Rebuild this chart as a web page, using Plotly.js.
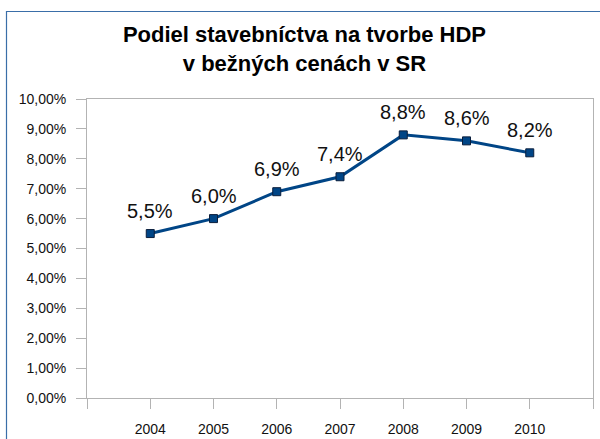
<!DOCTYPE html>
<html><head><meta charset="utf-8">
<script src="https://cdn.plot.ly/plotly-3.0.1.min.js"></script>
<style>html,body{margin:0;padding:0;background:#fff}#chart{width:600px;height:439px}</style>
</head><body><div id="chart"></div>
<script>
const years = [2004, 2005, 2006, 2007, 2008, 2009, 2010];
const shares = [5.5, 6.0, 6.9, 7.4, 8.8, 8.6, 8.2];
const valueLabels = ["5,5%", "6,0%", "6,9%", "7,4%", "8,8%", "8,6%", "8,2%"];
const yTickVals = [0, 1, 2, 3, 4, 5, 6, 7, 8, 9, 10];
const yTickText = ["0,00%", "1,00%", "2,00%", "3,00%", "4,00%", "5,00%", "6,00%", "7,00%", "8,00%", "9,00%", "10,00%"];
const xTickVals = [2003, 2004, 2005, 2006, 2007, 2008, 2009, 2010, 2011];
const xTickText = ["", "2004", "2005", "2006", "2007", "2008", "2009", "2010", ""];

const FONT = 'Liberation Sans, Arial, sans-serif';

const trace = {
  x: years, y: shares,
  type: 'scatter', mode: 'lines+markers',
  line: {color: '#004586', width: 3},
  marker: {symbol: 'square', size: 8, color: '#004586', line: {color: '#0a1e3c', width: 1}},
  cliponaxis: false, hoverinfo: 'none'
};

const labelAnnotations = years.map((yr, i) => ({
  x: yr, y: shares[i], xref: 'x', yref: 'y',
  text: valueLabels[i], showarrow: false,
  xanchor: 'center', yanchor: 'bottom', yshift: 10,
  font: {family: FONT, size: 20, color: '#111'}
}));

const layout = {
  width: 600, height: 439,
  margin: {l: 87, r: 7, t: 99, b: 41},
  paper_bgcolor: '#fff', plot_bgcolor: '#fff',
  showlegend: false,
  font: {family: FONT, color: '#111'},
  title: {
    text: '<b>Podiel stavebníctva na tvorbe HDP<br>v bežných cenách v SR</b>',
    font: {family: FONT, size: 22, color: '#000'},
    x: 304.5 / 600, xanchor: 'center', xref: 'container',
    y: 1 - 42/439, yanchor: 'top', yref: 'container'
  },
  xaxis: {
    range: [2003, 2011], tickmode: 'array', tickvals: xTickVals, ticktext: xTickText,
    showgrid: false, zeroline: false, showline: true, mirror: true, linecolor: '#b3b3b3', linewidth: 1,
    ticks: 'outside', ticklen: 10, tickcolor: '#b3b3b3', tickwidth: 1,
    ticklabelstandoff: 8,
    tickfont: {family: FONT, size: 14, color: '#111'}
  },
  yaxis: {
    range: [0, 10], tickmode: 'array', tickvals: yTickVals, ticktext: yTickText,
    showgrid: false, zeroline: false, showline: true, mirror: true, linecolor: '#b3b3b3', linewidth: 1,
    ticks: 'outside', ticklen: 10, tickcolor: '#b3b3b3', tickwidth: 1,
    ticklabelstandoff: 7,
    tickfont: {family: FONT, size: 14, color: '#111'}
  },
  annotations: labelAnnotations,
  shapes: [{
    type: 'rect', xref: 'paper', yref: 'paper',
    x0: (6.5 - 87) / 506, x1: (640 - 87) / 506,
    y0: -0.5, y1: (398 - 11.5) / 299,
    line: {color: '#3a6ea8', width: 1.2}, fillcolor: 'rgba(0,0,0,0)', layer: 'below'
  }]
};

Plotly.newPlot('chart', [trace], layout, {staticPlot: true, displayModeBar: false});
</script></body></html>
